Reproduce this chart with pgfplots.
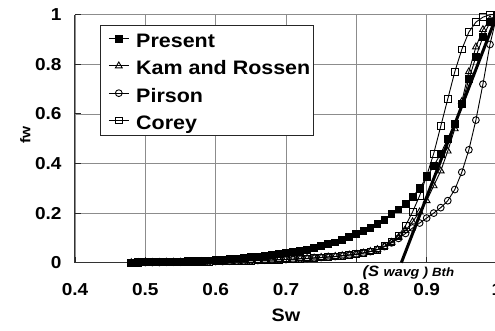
\documentclass[border=0pt]{standalone}
\usepackage{pgfplots}
\usepackage{pgfplotstable}
\pgfplotsset{compat=1.18}
\usepackage{fontspec}
\setmainfont{Liberation Sans}[FakeStretch=1.1]

% Fractional flow curves fw(Sw)
\pgfplotstableread{
S fw
0.48 0.001
0.49 0.002
0.50 0.002
0.51 0.003
0.52 0.003
0.53 0.004
0.54 0.004
0.55 0.005
0.56 0.006
0.57 0.007
0.58 0.008
0.59 0.009
0.60 0.011
0.61 0.013
0.62 0.015
0.63 0.017
0.64 0.019
0.65 0.022
0.66 0.025
0.67 0.028
0.68 0.031
0.69 0.034
0.70 0.038
0.71 0.043
0.72 0.048
0.73 0.053
0.74 0.059
0.75 0.066
0.76 0.074
0.77 0.082
0.78 0.092
0.79 0.103
0.80 0.115
0.81 0.127
0.82 0.140
0.83 0.155
0.84 0.173
0.85 0.195
0.86 0.215
0.87 0.238
0.88 0.265
0.89 0.300
0.90 0.345
0.91 0.390
0.92 0.440
0.93 0.500
0.94 0.560
0.95 0.640
0.96 0.740
0.97 0.830
0.98 0.910
0.99 0.970
1.00 1.000
}\present

\pgfplotstableread{
S fw
0.48 0.000
0.49 0.000
0.50 0.001
0.51 0.001
0.52 0.001
0.53 0.002
0.54 0.002
0.55 0.002
0.56 0.003
0.57 0.003
0.58 0.004
0.59 0.004
0.60 0.005
0.61 0.005
0.62 0.006
0.63 0.007
0.64 0.007
0.65 0.008
0.66 0.009
0.67 0.010
0.68 0.011
0.69 0.012
0.70 0.013
0.71 0.014
0.72 0.016
0.73 0.017
0.74 0.019
0.75 0.021
0.76 0.023
0.77 0.025
0.78 0.028
0.79 0.031
0.80 0.034
0.81 0.039
0.82 0.045
0.83 0.053
0.84 0.065
0.85 0.082
0.86 0.102
0.87 0.130
0.88 0.165
0.89 0.205
0.90 0.250
0.91 0.310
0.92 0.370
0.93 0.450
0.94 0.540
0.95 0.650
0.96 0.770
0.97 0.870
0.98 0.940
0.99 0.980
1.00 1.000
}\kam

\pgfplotstableread{
S fw
0.48 0.000
0.49 0.000
0.50 0.001
0.51 0.001
0.52 0.001
0.53 0.002
0.54 0.002
0.55 0.002
0.56 0.003
0.57 0.003
0.58 0.004
0.59 0.004
0.60 0.005
0.61 0.005
0.62 0.006
0.63 0.007
0.64 0.007
0.65 0.008
0.66 0.009
0.67 0.010
0.68 0.011
0.69 0.012
0.70 0.013
0.71 0.014
0.72 0.016
0.73 0.017
0.74 0.019
0.75 0.021
0.76 0.023
0.77 0.025
0.78 0.028
0.79 0.031
0.80 0.034
0.81 0.039
0.82 0.045
0.83 0.053
0.84 0.065
0.85 0.080
0.86 0.098
0.87 0.118
0.88 0.140
0.89 0.160
0.90 0.180
0.91 0.200
0.92 0.222
0.93 0.250
0.94 0.295
0.95 0.365
0.96 0.455
0.97 0.575
0.98 0.720
0.99 0.880
1.00 1.000
}\pirson

\pgfplotstableread{
S fw
0.48 0.000
0.49 0.000
0.50 0.001
0.51 0.001
0.52 0.001
0.53 0.002
0.54 0.002
0.55 0.002
0.56 0.003
0.57 0.003
0.58 0.004
0.59 0.004
0.60 0.005
0.61 0.005
0.62 0.006
0.63 0.007
0.64 0.007
0.65 0.008
0.66 0.009
0.67 0.010
0.68 0.011
0.69 0.012
0.70 0.013
0.71 0.014
0.72 0.016
0.73 0.017
0.74 0.019
0.75 0.021
0.76 0.023
0.77 0.025
0.78 0.028
0.79 0.031
0.80 0.034
0.81 0.039
0.82 0.045
0.83 0.053
0.84 0.066
0.85 0.085
0.86 0.110
0.87 0.150
0.88 0.205
0.89 0.270
0.90 0.350
0.91 0.440
0.92 0.550
0.93 0.660
0.94 0.770
0.95 0.860
0.96 0.930
0.97 0.970
0.98 0.990
0.99 1.000
1.00 1.000
}\corey

\begin{document}
\begin{tikzpicture}
\useasboundingbox (-75pt,-68.3pt) rectangle (420pt,262.7pt);
\begin{axis}[
  at={(0,0)}, anchor=south west,
  scale only axis, width=422pt, height=248pt,
  xmin=0.4, xmax=1.0, ymin=0, ymax=1,
  xtick={0.4,0.5,0.6,0.7,0.8,0.9,1},
  ytick={0,0.2,0.4,0.6,0.8,1},
  axis x line*=bottom, axis y line*=left,
  axis line style={black!80, line width=1pt, -},
  grid=major,
  major grid style={black!45, line width=0.7pt},
  tick align=inside, major tick length=6pt,
  tick style={black!85, line width=0.9pt},
  /pgf/number format/assume math mode=true,
  /pgf/number format/fixed,
  tick label style={font=\bfseries\fontsize{17.3}{18}\selectfont},
  yticklabel style={xshift=-9.9pt},
  xticklabel style={yshift=-17.5pt},
  xlabel={Sw},
  xlabel style={at={(axis description cs:0.5,-0.214)}, anchor=center,
    font=\bfseries\fontsize{18}{19}\selectfont},
  ylabel={fw},
  ylabel style={at={(axis description cs:-0.118,0.515)}, anchor=center,
    font=\bfseries\fontsize{14}{15}\selectfont},
  clip=false,
  legend cell align=left,
  legend image code/.code={
    \path (-5pt,0pt);
    \draw[mark repeat=2,mark phase=2,#1] plot coordinates {(0pt,1pt) (10pt,1pt) (20pt,1pt)};
  },
  legend style={
    at={(0.059,0.958)}, anchor=north west,
    draw=black!85, line width=0.9pt,
    inner xsep=3pt, inner ysep=5pt,
    font=\bfseries\fontsize{19.5}{20}\selectfont,
    row sep=9.3pt,
    nodes={inner sep=0pt, text height=17pt, text depth=1pt},
    /tikz/every odd column/.append style={column sep=7pt},
  },
]
\addplot[black, line width=0.9pt, mark=square*, mark size=3.4pt,
  mark options={fill=black, solid}] table[x=S, y=fw] {\present};
\addlegendentry{Present}
\addplot[black, line width=0.9pt, mark=triangle, mark size=3.9pt,
  mark options={fill=white, solid}] table[x=S, y=fw] {\kam};
\addlegendentry{Kam and Rossen}
\addplot[black, line width=0.9pt, mark=o, mark size=3.4pt,
  mark options={fill=white, solid}] table[x=S, y=fw] {\pirson};
\addlegendentry{Pirson}
\addplot[black, line width=0.9pt, mark=square, mark size=3.4pt,
  mark options={fill=white, solid}] table[x=S, y=fw] {\corey};
\addlegendentry{Corey}
% Tangent from the breakthrough average saturation
\addplot[black, line width=3pt, no marks, forget plot] coordinates {(0.864,0) (1,1)};
\node[font=\bfseries\itshape] at ([yshift=-10pt]axis cs:0.874,0)
  {\fontsize{15}{16}\selectfont(S \fontsize{13}{14}\selectfont wavg ) \fontsize{12}{13}\selectfont Bth};
\end{axis}
\end{tikzpicture}
\end{document}
